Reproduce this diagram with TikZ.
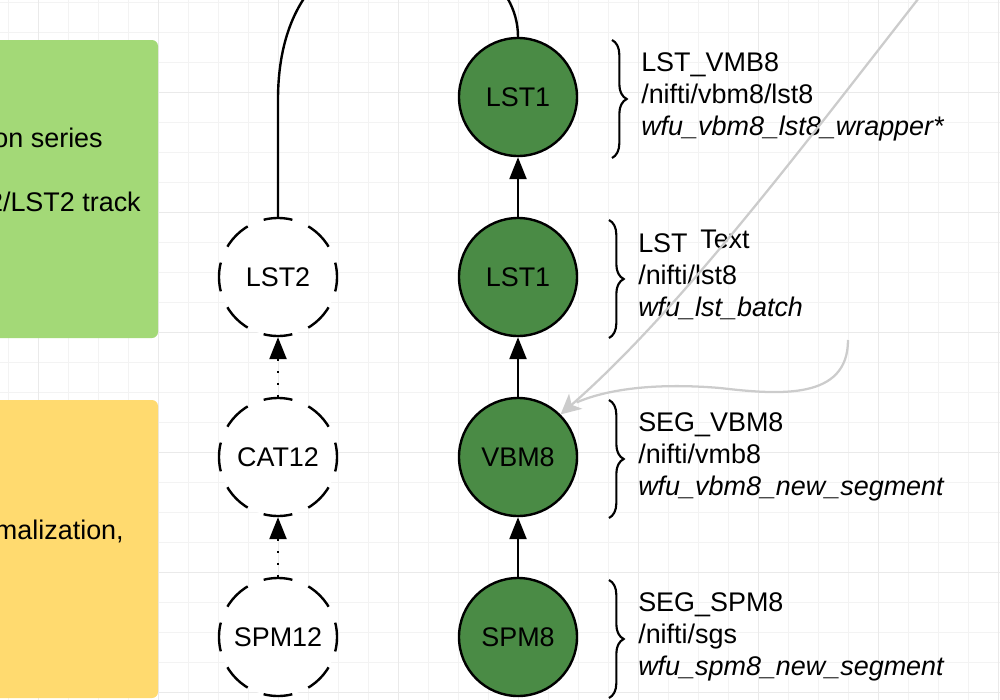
\documentclass[tikz,border=0pt]{standalone}
\usepackage{fontspec}
\setmainfont{Liberation Sans}
\usetikzlibrary{arrows.meta,calc,positioning,decorations.pathreplacing}

\definecolor{stagegreen}{HTML}{4A8B45}
\definecolor{boxgreen}{HTML}{A3D977}
\definecolor{boxyellow}{HTML}{FFDA6F}
\definecolor{gridminor}{HTML}{F3F3F3}
\definecolor{gridmajor}{HTML}{EAEAEA}
\definecolor{hintgray}{HTML}{CCCCCC}

\tikzset{
    txt/.style={inner sep=0pt, font=\fontsize{20.2}{24}\selectfont},
    info/.style={txt, align=left, anchor=west},
    stage/.style={circle, draw=black, line width=1.8pt, fill=stagegreen,
        minimum size=88.5pt, inner sep=0pt, font=\fontsize{20.2}{24}\selectfont},
    altstage/.style={stage, fill=white,
        dash pattern=on 21.75pt off 12.99pt, dash phase=10.87pt},
    flow/.style={line width=1.8pt, -{Triangle[length=16.5pt,width=12.75pt]}},
    altflow/.style={flow, dash pattern=on 1.5pt off 7.5pt},
    hint/.style={draw=hintgray, line width=1.7pt},
    bracket/.style={decorate, decoration={brace, amplitude=11pt}, line width=1.6pt}
}

\begin{document}
\begin{tikzpicture}[x=0.75pt, y=-0.75pt]
    \useasboundingbox (0,0) rectangle (1000,700);
    % Grid
    \foreach \gx in {8,38,...,998} \draw[gridminor, line width=0.75pt] (\gx,0) -- (\gx,700);
    \foreach \gy in {2,32,...,692} \draw[gridminor, line width=0.75pt] (0,\gy) -- (1000,\gy);
    \foreach \gx in {38,158,...,998} \draw[gridmajor, line width=0.75pt] (\gx,0) -- (\gx,700);
    \foreach \gy in {92,212,...,692} \draw[gridmajor, line width=0.75pt] (0,\gy) -- (1000,\gy);
    % Boxes
    \fill[boxgreen, rounded corners=4.5pt] (-30,40) rectangle (158,338);
    \fill[boxyellow, rounded corners=4.5pt] (-30,400) rectangle (158,698);
    \node[txt, anchor=base east] (greenlinea) at (103,147) {on series};
    \node[txt, anchor=base east] (greenlineb) at (141,211) {2/LST2 track};
    \node[txt, anchor=base east] (yellowline) at (124,539) {malization,};
    % SPM8 track
    \node[stage] (spm8) at (518,637) {SPM8};
    \node[stage] (vbm8) at (518,457) {VBM8};
    \node[stage] (lst1) at (518,277) {LST1};
    \node[stage] (lst1vbm) at (518,97) {LST1};
    % SPM12 track
    \node[altstage] (spm12) at (278,637) {SPM12};
    \node[altstage] (cat12) at (278,457) {CAT12};
    \node[altstage] (lst2) at (278,277) {LST2};
    % Links
    \draw[flow] (spm8) -- (vbm8);
    \draw[flow] (vbm8) -- (lst1);
    \draw[flow] (lst1) -- (lst1vbm);
    \draw[altflow] (spm12) -- (cat12);
    \draw[altflow] (cat12) -- (lst2);
    \draw[line width=1.8pt] (lst2.north) -- ++(0,-117)
        .. controls (278,-115) and (518,-75) .. (lst1vbm.north);
    % Braces
    \draw[bracket] (612,40) -- (612,158);
    \draw[bracket] (609,220) -- (609,338);
    \draw[bracket] (609,400) -- (609,518);
    \draw[bracket] (609,580) -- (609,698);
    % Folders
    \node[info] (lstvbminfo) at (641,97)
        {LST\_VMB8\\/nifti/vbm8/lst8\\\textit{wfu\_vbm8\_lst8\_wrapper*}};
    \node[info] (lstinfo) at (638,277)
        {LST\\/nifti/lst8\\\textit{wfu\_lst\_batch}};
    \node[info] (vbminfo) at (638,457)
        {SEG\_VBM8\\/nifti/vmb8\\\textit{wfu\_vbm8\_new\_segment}};
    \node[info] (spminfo) at (638,637)
        {SEG\_SPM8\\/nifti/sgs\\\textit{wfu\_spm8\_new\_segment}};
    \node[txt, anchor=base west] (textnote) at (700,248) {Text};
    % Hints
    \coordinate (hinttop) at (922,-6);
    \coordinate (hintside) at (848,340);
    \coordinate (hintend) at ($(vbm8.45)+(16,-12)$);
    \draw[hint, -{Stealth[length=15pt,width=15pt,inset=4pt]}] (hinttop)
        .. controls (800,150) and (680,310) .. (vbm8.45);
    \draw[hint] (hintside) .. controls (848,400) and (780,395) .. (720,388)
        .. controls (660,383) and (610,388) .. (hintend);
\end{tikzpicture}
\end{document}
